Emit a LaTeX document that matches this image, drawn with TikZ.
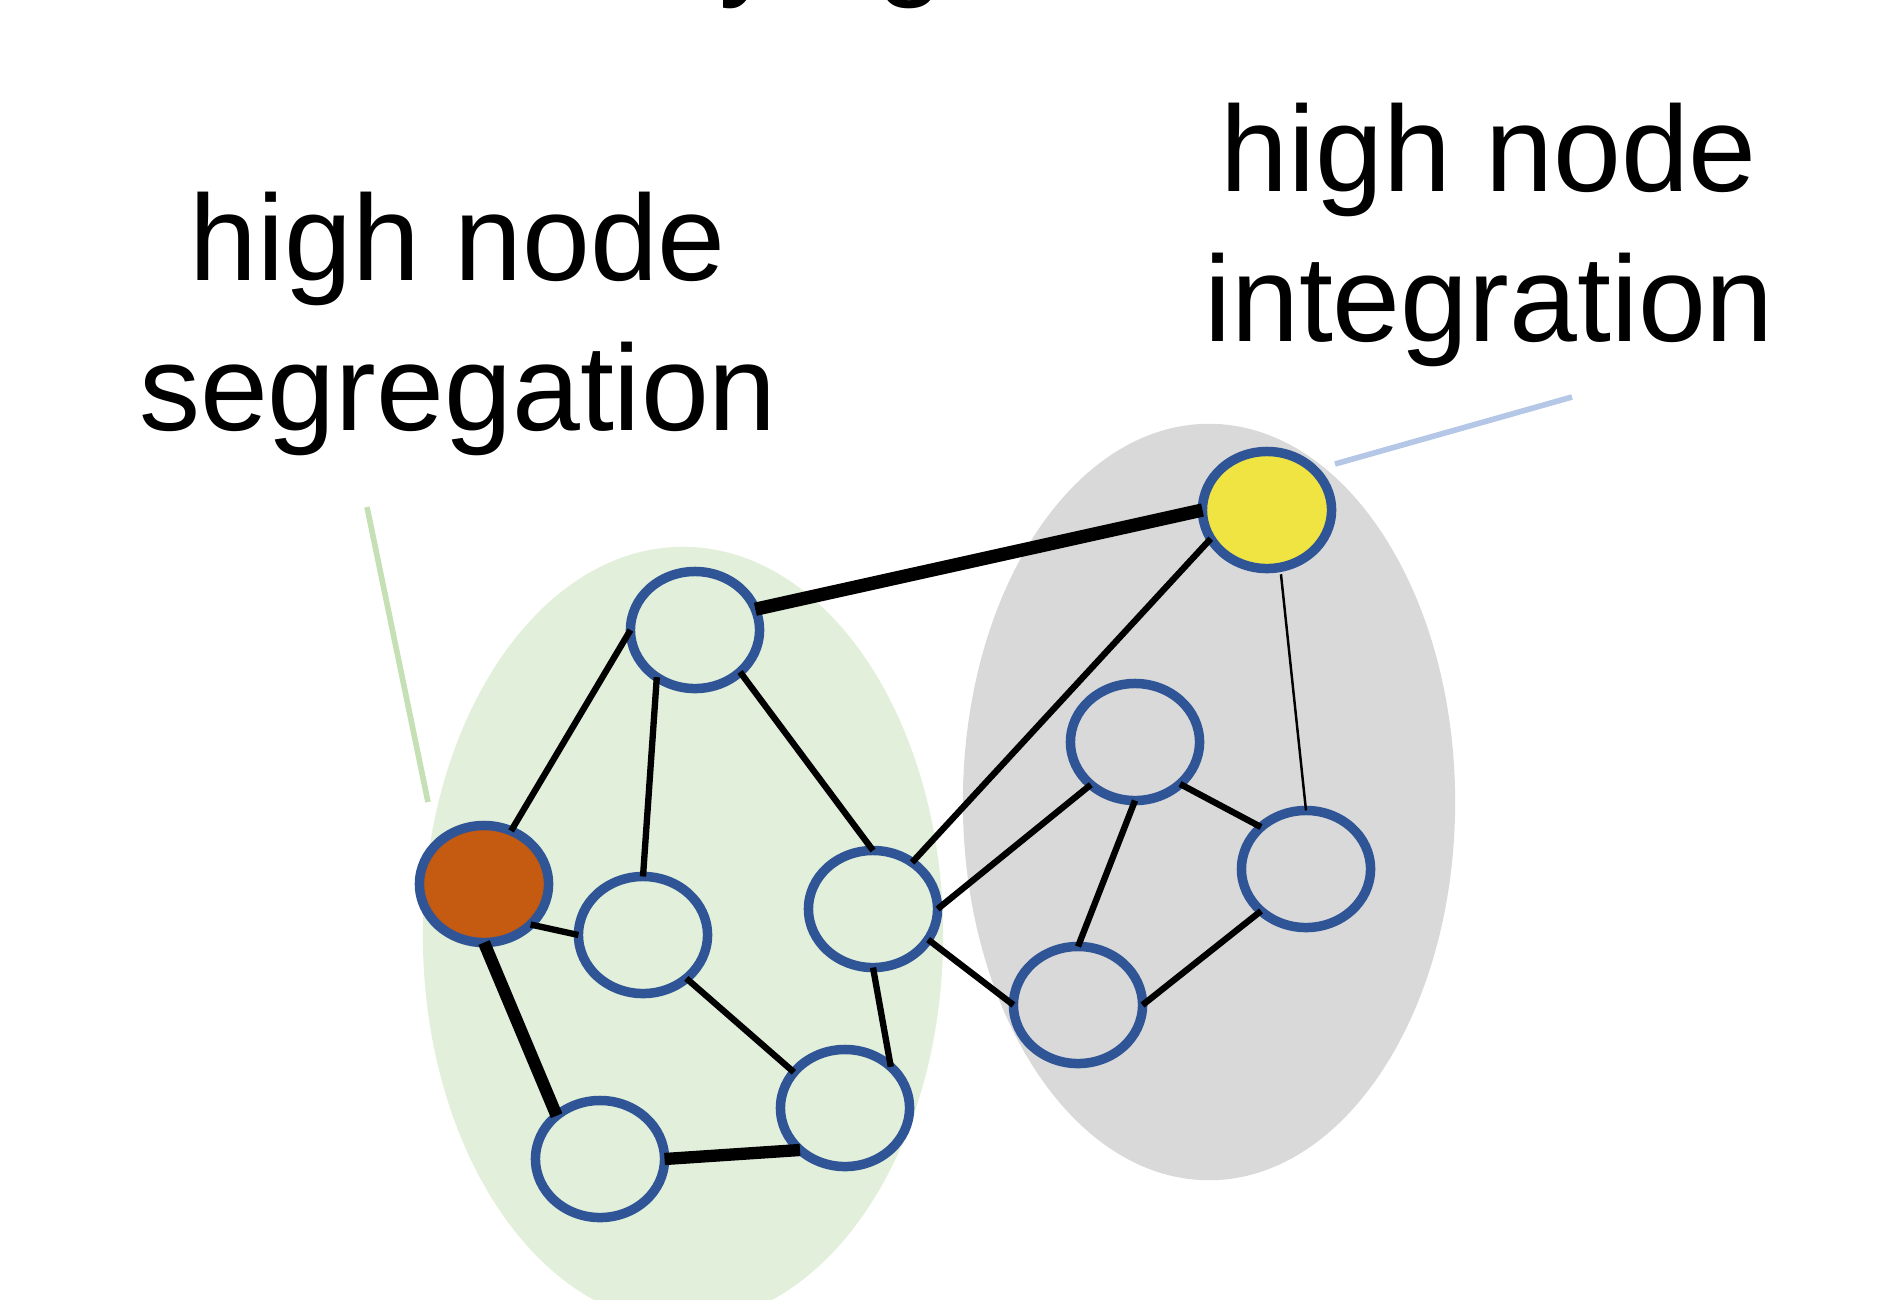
\documentclass[tikz,border=0pt]{standalone}
\usepackage{fontspec}
\setmainfont{Liberation Sans}
\usetikzlibrary{shapes.geometric}
\definecolor{ringblue}{HTML}{2F5597}
\definecolor{orangefill}{HTML}{C55A11}
\definecolor{yellowfill}{HTML}{F0E442}
\definecolor{greenbg}{HTML}{E2EFDA}
\definecolor{graybg}{HTML}{D9D9D9}
\definecolor{greenline}{HTML}{C5E0B4}
\definecolor{blueline}{HTML}{B4C7E7}
\begin{document}
\begin{tikzpicture}[x=0.01cm,y=-0.01cm,
  netnode/.style={ellipse, draw=ringblue, line width=2.7pt, minimum width=1.29cm, minimum height=1.17cm, inner sep=0pt, outer sep=0pt},
  gnode/.style={netnode, fill=greenbg},
  grnode/.style={netnode, fill=graybg},
  edgeline/.style={line width=1.8pt},
  thickedge/.style={line width=3.5pt},
  thinedge/.style={line width=0.7pt},
  callout/.style={line width=1.6pt},
  lbl/.style={font=\fontsize{34.7pt}{42pt}\selectfont, anchor=base, inner sep=0pt}]
\useasboundingbox (0,0) rectangle (1903,1299);
\clip (0,0) rectangle (1903,1299);
% background groups
\fill[greenbg] (683,935) ellipse [x radius=2.60cm, y radius=3.88cm];
\fill[graybg] (1209,802) ellipse [x radius=2.46cm, y radius=3.78cm];
% cut-off title fragments
\node[lbl] (ty) at (750,-17) {y};
\node[lbl] (tg) at (910,-17) {g};
% labels
\node[lbl] (segA) at (458,280) {high node};
\node[lbl] (segB) at (458,430) {segregation};
\node[lbl] (intA) at (1489,191) {high node};
\node[lbl] (intB) at (1489,341) {integration};
% callout lines
\coordinate (cg1) at (367,507);
\coordinate (cg2) at (428,802);
\coordinate (cb1) at (1335,464);
\coordinate (cb2) at (1572,397);
\draw[callout, greenline] (cg1) -- (cg2);
\draw[callout, blueline] (cb1) -- (cb2);
% nodes
\node[gnode] (N1) at (695,630) {};
\node[gnode] (N2) at (643,935) {};
\node[gnode] (N3) at (873,909) {};
\node[gnode] (N4) at (600,1159) {};
\node[gnode] (N5) at (845,1108) {};
\node[netnode, fill=orangefill] (O) at (484,884) {};
\node[netnode, fill=yellowfill] (Y) at (1267,510) {};
\node[grnode] (G1) at (1135,742) {};
\node[grnode] (G2) at (1306,869) {};
\node[grnode] (G3) at (1078,1005) {};
% edges
\draw[edgeline] (N1.180) -- (O.63);
\draw[edgeline] (N1.231) -- (N2.90);
\draw[edgeline] (N1.317) -- (N3.90);
\draw[thickedge, line width=3.8pt] (N1.19) -- (Y.180);
\draw[edgeline] (Y.207) -- (N3.50);
\draw[thinedge, shorten <=0.07cm] (Y.283) -- (G2.90);
\draw[edgeline] (N3.0) -- (G1.224);
\draw[edgeline] (N3.331) -- (G3.180);
\draw[edgeline] (N3.270) -- (N5.42);
\draw[edgeline] (G1.270) -- (G3.90);
\draw[edgeline] (G1.317) -- (G2.137);
\draw[edgeline] (G3.0) -- (G2.223);
\draw[edgeline] (O.319) -- (N2.180);
\draw[thickedge] (O.270) -- (N4.135);
\draw[edgeline] (N2.315) -- (N5.145);
\draw[thickedge] (N4.0) -- (N5.223);
\end{tikzpicture}
\end{document}
